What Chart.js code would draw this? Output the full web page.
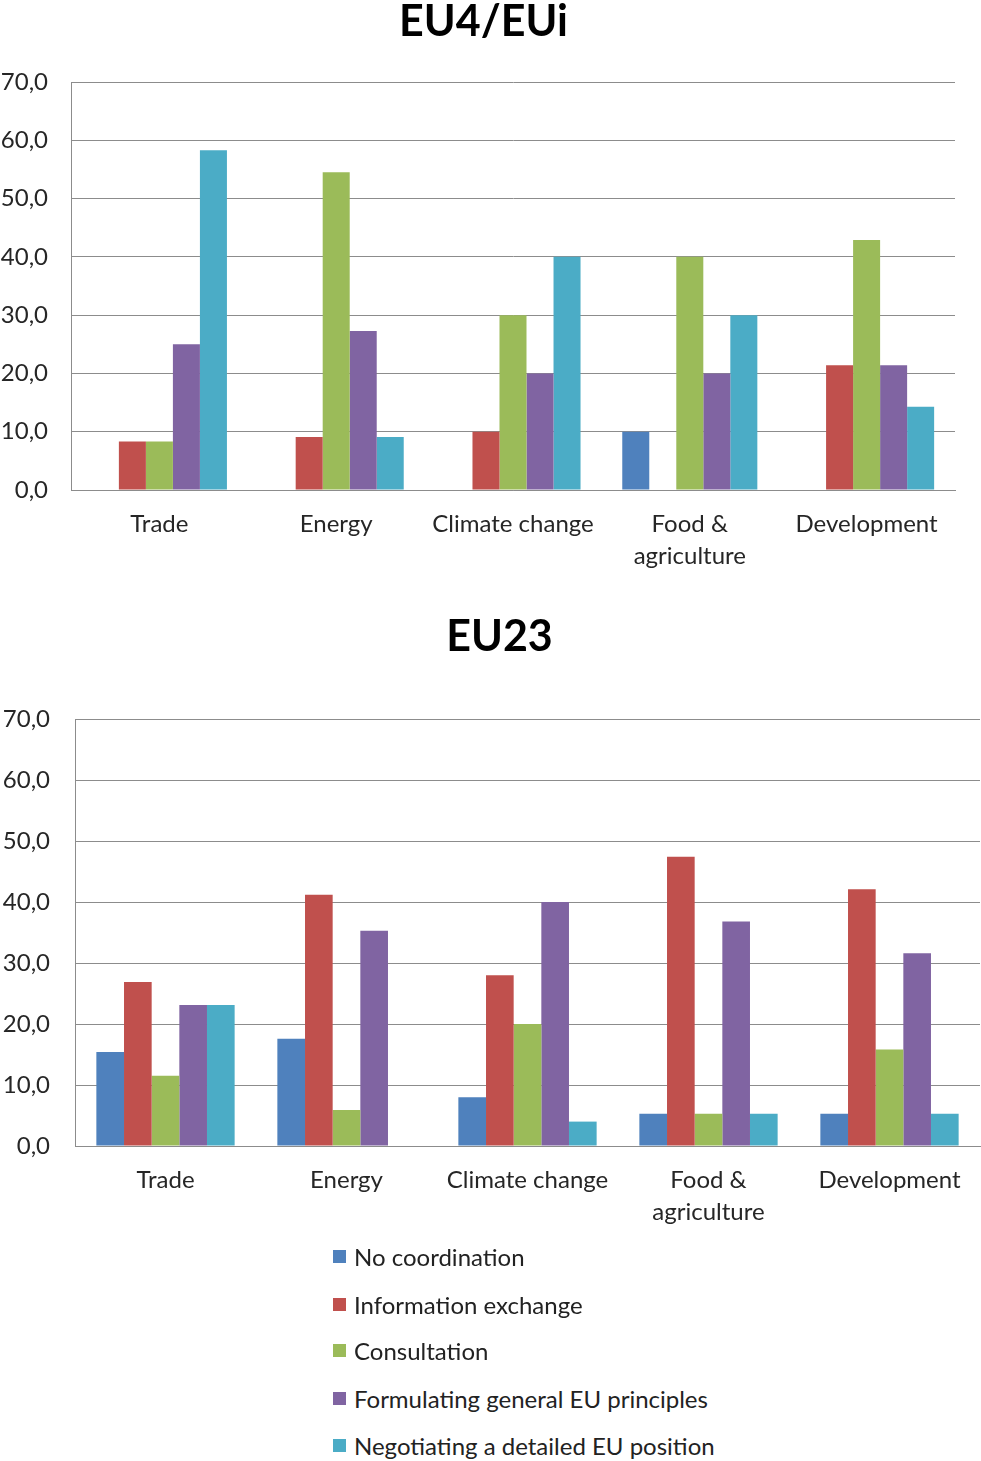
<!DOCTYPE html>
<html>
<head>
<meta charset="utf-8">
<script src="https://cdn.jsdelivr.net/npm/chart.js@4/dist/chart.umd.min.js"></script>
<style>
  html, body { margin: 0; padding: 0; background: #fff; }
  body { width: 981px; height: 1461px; position: relative; overflow: hidden; font-family: Lato, "Open Sans", sans-serif; }
  #c1wrap { position: absolute; left: 0; top: 0; width: 967px; height: 600px; }
  #c2wrap { position: absolute; left: 0; top: 600px; width: 999px; height: 640px; }
  #legend { position: absolute; left: 333px; top: 1232px; }
  .li { position: absolute; left: 0; white-space: nowrap; height: 48px; display: flex; align-items: center; font-size: 24px; color: #222; }
  .sw { width: 13px; height: 13px; margin-right: 8px; }
</style>
</head>
<body>
<div id="c1wrap"><canvas id="c1"></canvas></div>
<div id="c2wrap"><canvas id="c2"></canvas></div>
<div id="legend"></div>
<script>
const categories = ['Trade', 'Energy', 'Climate change', ['Food &', 'agriculture'], 'Development'];
const seriesNames = ['No coordination', 'Information exchange', 'Consultation', 'Formulating general EU principles', 'Negotiating a detailed EU position'];
const seriesColors = ['#4F81BD', '#C0504D', '#9BBB59', '#8064A2', '#4BACC6'];
const yTickLabels = ['0,0', '10,0', '20,0', '30,0', '40,0', '50,0', '60,0', '70,0'];

// EU4/EUi
const eu4NoCoordination = [0, 0, 0, 10, 0];
const eu4InfoExchange   = [8.3, 9.1, 10, 0, 21.4];
const eu4Consultation   = [8.3, 54.5, 30, 40, 42.9];
const eu4Formulating    = [25, 27.3, 20, 20, 21.4];
const eu4Negotiating    = [58.3, 9.1, 40, 30, 14.3];

// EU23
const eu23NoCoordination = [15.4, 17.6, 8.0, 5.3, 5.3];
const eu23InfoExchange   = [26.9, 41.2, 28.0, 47.4, 42.1];
const eu23Consultation   = [11.5, 5.9, 20.0, 5.3, 15.8];
const eu23Formulating    = [23.1, 35.3, 40.0, 36.8, 31.6];
const eu23Negotiating    = [23.1, 0, 4.0, 5.3, 5.3];

const FONT = 'Lato, "Open Sans", sans-serif';
const TXT = '#262626';
const GRID = '#8c8c8c';

function makeDatasets(arrs) {
  return arrs.map((d, i) => ({
    label: seriesNames[i],
    data: d,
    backgroundColor: seriesColors[i],
    borderWidth: 0,
    categoryPercentage: 0.764,
    barPercentage: 1.0
  }));
}

function makeChart(id, title, arrs, cfg) {
  return new Chart(document.getElementById(id), {
    type: 'bar',
    data: { labels: categories, datasets: makeDatasets(arrs) },
    options: {
      responsive: true,
      maintainAspectRatio: false,
      animation: false,
      layout: { padding: 0 },
      plugins: {
        legend: { display: false },
        tooltip: { enabled: false },
        title: {
          display: true,
          text: title,
          color: '#000',
          font: { family: FONT, size: 43, weight: 'bold', lineHeight: 1.0 },
          padding: { top: cfg.titleTop, bottom: cfg.titleBottom }
        }
      },
      scales: {
        x: {
          grid: { display: false, drawTicks: false },
          border: { display: true, color: GRID, width: 1 },
          ticks: { color: TXT, font: { family: FONT, size: 24, lineHeight: 1.3 }, padding: 19, maxRotation: 0, autoSkip: false },
          afterFit: (s) => { s.height = cfg.xHeight; }
        },
        y: {
          min: 0, max: 70,
          grid: { color: GRID, lineWidth: 1, drawTicks: false },
          border: { display: true, color: GRID, width: 1 },
          ticks: {
            stepSize: 10,
            autoSkip: false,
            color: TXT,
            font: { family: FONT, size: 24 },
            padding: cfg.yPad,
            callback: (v, i) => yTickLabels[i]
          },
          afterFit: (s) => { s.width = cfg.yWidth; }
        },
        spacer: {
          type: 'linear',
          position: 'right',
          grid: { display: false, drawTicks: false },
          border: { display: false },
          ticks: { display: false },
          afterFit: (s) => { s.width = cfg.rightSpace; }
        }
      }
    }
  });
}

makeChart('c1', 'EU4/EUi',
  [eu4NoCoordination, eu4InfoExchange, eu4Consultation, eu4Formulating, eu4Negotiating],
  { rightSpace: 12, titleTop: 1, titleBottom: 38, xHeight: 110, yWidth: 71, yPad: 23 });

makeChart('c2', 'EU23',
  [eu23NoCoordination, eu23InfoExchange, eu23Consultation, eu23Formulating, eu23Negotiating],
  { rightSpace: 19, titleTop: 16, titleBottom: 60, xHeight: 94, yWidth: 75, yPad: 25 });

// HTML legend built from the series arrays
const legendTops = [0, 48, 94, 142, 189];
const lg = document.getElementById('legend');
seriesNames.forEach((n, i) => {
  const row = document.createElement('div');
  row.className = 'li';
  row.style.top = legendTops[i] + 'px';
  const sw = document.createElement('span');
  sw.className = 'sw';
  sw.style.background = seriesColors[i];
  const t = document.createElement('span');
  t.textContent = n;
  row.appendChild(sw); row.appendChild(t);
  lg.appendChild(row);
});
</script>
</body>
</html>
